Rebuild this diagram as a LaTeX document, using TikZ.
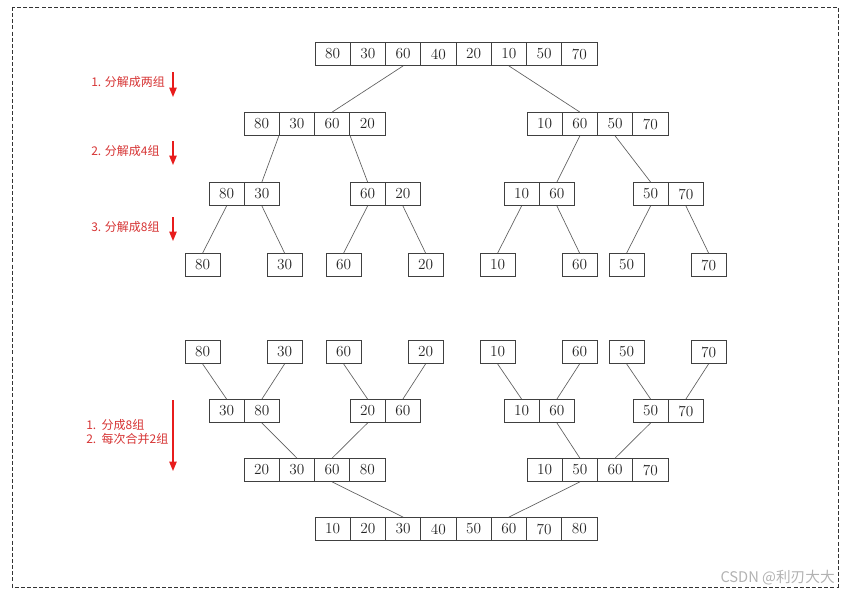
\documentclass[tikz,border=0pt]{standalone}
\usepackage{fontspec}
\newfontfamily\cjk{Noto Sans CJK SC}
\usetikzlibrary{arrows.meta}

\definecolor{labelred}{RGB}{214,52,52}
\definecolor{arrowred}{RGB}{232,28,28}
\definecolor{linegray}{RGB}{95,95,95}

% one row of boxes, named #1-1, #1-2, ...
\newcommand{\boxrow}[4]{%
  \foreach \v [count=\i] in {#4}
    \node[cell] (#1-\i) at ({#2+35.25*(\i-0.5)},#3) {\v};%
}

\begin{document}
\begin{tikzpicture}[x=0.75pt,y=-0.75pt,
    cell/.style={draw=black!75, line width=0.6pt, minimum width=26.44pt,
      minimum height=17.25pt, inner sep=0pt, text=black!85,
      font=\fontsize{11.5}{13}\selectfont},
    link/.style={draw=linegray, line width=0.5pt},
    note/.style={anchor=west, text=labelred, inner sep=0pt,
      font=\cjk\fontsize{9}{9.8}\selectfont},
    redarrow/.style={draw=arrowred, line width=1pt,
      -{Triangle[length=7pt,width=5.5pt]}},
    frame/.style={draw=black!80, line width=0.7pt, dash pattern=on 3pt off 1.6pt}]
    \useasboundingbox (0,0) rectangle (848,594);

    % Outer frame
    \draw[frame] (12,7) rectangle (838,587);

    % Split: top half
    \boxrow{t1}{315}{54}{80,30,60,40,20,10,50,70}
    \boxrow{t2a}{244}{124}{80,30,60,20}
    \boxrow{t2b}{527}{124}{10,60,50,70}
    \boxrow{t3a}{209}{194}{80,30}
    \boxrow{t3b}{350}{194}{60,20}
    \boxrow{t3c}{504}{194}{10,60}
    \boxrow{t3d}{633}{194}{50,70}
    \foreach \x/\v [count=\i] in {185/80,267/30,326/60,408/20,480/10,562/60,609/50,691/70}
      \node[cell] (t4-\i) at (\x+17.6,265) {\v};

    \draw[link] (t1-3.south) -- (t2a-3.north);
    \draw[link] (t1-6.south) -- (t2b-2.north);
    \draw[link] (t2a-2.south west) -- (t3a-2.north);
    \draw[link] (t2a-3.south east) -- (t3b-1.north);
    \draw[link] (t2b-2.south) -- (t3c-2.north);
    \draw[link] (t2b-3.south) -- (t3d-1.north);
    \draw[link] (t3a-1.south) -- (t4-1.north);
    \draw[link] (t3a-2.south) -- (t4-2.north);
    \draw[link] (t3b-1.south) -- (t4-3.north);
    \draw[link] (t3b-2.south) -- (t4-4.north);
    \draw[link] (t3c-1.south) -- (t4-5.north);
    \draw[link] (t3c-2.south) -- (t4-6.north);
    \draw[link] (t3d-1.south) -- (t4-7.north);
    \draw[link] (t3d-2.south) -- (t4-8.north);

    % Merge: bottom half
    \foreach \x/\v [count=\i] in {185/80,267/30,326/60,408/20,480/10,562/60,609/50,691/70}
      \node[cell] (b5-\i) at (\x+17.6,352) {\v};
    \boxrow{b6a}{209}{411}{30,80}
    \boxrow{b6b}{350}{411}{20,60}
    \boxrow{b6c}{504}{411}{10,60}
    \boxrow{b6d}{633}{411}{50,70}
    \boxrow{b7a}{244}{470}{20,30,60,80}
    \boxrow{b7b}{527}{470}{10,50,60,70}
    \boxrow{b8}{315}{529}{10,20,30,40,50,60,70,80}

    \draw[link] (b5-1.south) -- (b6a-1.north);
    \draw[link] (b5-2.south) -- (b6a-2.north);
    \draw[link] (b5-3.south) -- (b6b-1.north);
    \draw[link] (b5-4.south) -- (b6b-2.north);
    \draw[link] (b5-5.south) -- (b6c-1.north);
    \draw[link] (b5-6.south) -- (b6c-2.north);
    \draw[link] (b5-7.south) -- (b6d-1.north);
    \draw[link] (b5-8.south) -- (b6d-2.north);
    \draw[link] (b6a-2.south) -- (b7a-2.north);
    \draw[link] (b6b-1.south) -- (b7a-3.north);
    \draw[link] (b6c-2.south) -- (b7b-2.north);
    \draw[link] (b6d-1.south) -- (b7b-3.north);
    \draw[link] (b7a-3.south) -- (b8-3.north);
    \draw[link] (b7b-2.south) -- (b8-6.north);

    % Step notes and red arrows
    \node[note] (n1) at (91,82) {1. 分解成两组};
    \node[note] (n2) at (91,151) {2. 分解成4组};
    \node[note] (n3) at (91,227) {3. 分解成8组};
    \node[note, align=left] (n4) at (86,432) {1.\ \ 分成8组\\2.\ \ 每次合并2组};
    \coordinate (a1s) at (173,72);  \coordinate (a1e) at (173,97);
    \coordinate (a2s) at (173,141); \coordinate (a2e) at (173,165);
    \coordinate (a3s) at (173,217); \coordinate (a3e) at (173,241);
    \coordinate (a4s) at (173,400); \coordinate (a4e) at (173,471);
    \draw[redarrow] (a1s) -- (a1e);
    \draw[redarrow] (a2s) -- (a2e);
    \draw[redarrow] (a3s) -- (a3e);
    \draw[redarrow] (a4s) -- (a4e);

    % Watermark
    \node[anchor=east, text=black!30, inner sep=0pt,
      font=\cjk\fontsize{11}{13}\selectfont] (wm) at (835,578) {CSDN @利刃大大};
\end{tikzpicture}
\end{document}
